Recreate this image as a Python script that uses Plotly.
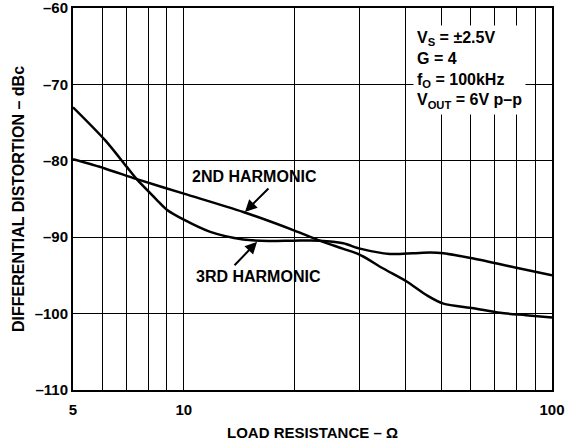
import plotly.graph_objects as go

# Load resistance (ohms) and distortion (dBc)
r_2nd = [5, 6.1, 7.45, 10, 14.5, 19.9, 23.4, 27, 30.1, 34.8, 40.3, 45.7, 50.7, 61.2, 72.3, 85, 100]
d_2nd = [-79.8, -81.0, -82.4, -84.3, -86.7, -89.1, -90.45, -91.5, -92.3, -94.1, -95.8, -97.6, -98.7, -99.3, -99.9, -100.2, -100.5]

r_3rd = [5, 6.11, 7.0, 7.45, 8.44, 8.99, 10, 11.8, 14.5, 17, 19.9, 23.4, 27.1, 30.1, 36.3, 42, 46.7, 50.7, 61.2, 80, 100]
d_3rd = [-73.0, -77.3, -80.8, -82.4, -85.1, -86.4, -87.7, -89.3, -90.3, -90.5, -90.45, -90.45, -90.8, -91.5, -92.2, -92.1, -92.0, -92.1, -92.8, -94.0, -95.0]

x_tickvals = [5, 6, 7, 8, 9, 10, 20, 30, 40, 50, 60, 70, 80, 90, 100]
x_ticktext = ["5", "", "", "", "", "10", "", "", "", "", "", "", "", "", "100"]
y_tickvals = [-110, -100, -90, -80, -70, -60]
y_ticktext = ["–110", "–100", "–90", "–80", "–70", "–60"]

FONT = "Liberation Sans, Arial, sans-serif"

fig = go.Figure()
fig.add_trace(go.Scatter(x=r_2nd, y=d_2nd, mode="lines", line=dict(color="black", width=2.5, shape="spline", smoothing=0.8), showlegend=False))
fig.add_trace(go.Scatter(x=r_3rd, y=d_3rd, mode="lines", line=dict(color="black", width=2.5, shape="spline", smoothing=0.8), showlegend=False))

fig.update_layout(
    width=575, height=442,
    margin=dict(l=73, r=23, t=8, b=52),
    paper_bgcolor="white", plot_bgcolor="white",
    font=dict(family=FONT, color="black"),
    xaxis=dict(type="log", range=[0.69897, 2], tickvals=x_tickvals, ticktext=x_ticktext,
               showgrid=True, gridcolor="black", gridwidth=1, zeroline=False, automargin=False,
               showline=True, linecolor="black", linewidth=2, mirror=True,
               ticks="outside", ticklen=5, tickcolor="rgba(0,0,0,0)",
               ticklabeloverflow="allow",
               tickfont=dict(size=15, family=FONT, weight="bold"),
               title=dict(text="<b>LOAD RESISTANCE – Ω</b>", font=dict(size=15), standoff=10)),
    yaxis=dict(range=[-110, -60], tickvals=y_tickvals, ticktext=y_ticktext,
               showgrid=True, gridcolor="black", gridwidth=1, zeroline=False, automargin=False,
               showline=True, linecolor="black", linewidth=2, mirror=True, ticks="",
               ticklabeloverflow="allow",
               tickfont=dict(size=15, family=FONT, weight="bold"),
               title=dict(text="<b>DIFFERENTIAL DISTORTION – dBc</b>", font=dict(size=16), standoff=6)),
)

fig.add_annotation(xref="paper", yref="paper", x=(413 - 73) / 479, y=1 - (25 - 8) / 382,
                   xanchor="left", yanchor="top", align="left",
                   text="<b>V<sub>S</sub> = ±2.5V<br>G = 4<br>f<sub>O</sub> = 100kHz<br>V<sub>OUT</sub> = 6V p–p</b>",
                   showarrow=False, bgcolor="white", borderpad=3, font=dict(size=16))

fig.add_annotation(x=1.166, y=-86.7, xref="x", yref="y", ax=25, ay=-25,
                   text="", showarrow=True, arrowhead=2, arrowsize=1.2, arrowwidth=2, arrowcolor="black")
fig.add_annotation(x=1.199, y=-90.6, xref="x", yref="y", ax=-24, ay=25,
                   text="", showarrow=True, arrowhead=2, arrowsize=1.2, arrowwidth=2, arrowcolor="black")
fig.add_annotation(xref="x", yref="y", x=1.193, y=-82.0, text="<b>2ND HARMONIC</b>", showarrow=False, font=dict(size=16))
fig.add_annotation(xref="x", yref="y", x=1.2015, y=-95.2, text="<b>3RD HARMONIC</b>", showarrow=False, font=dict(size=16))

fig.write_html("out.html", config={"displayModeBar": False},
               post_script="document.body.style.margin='0';")
